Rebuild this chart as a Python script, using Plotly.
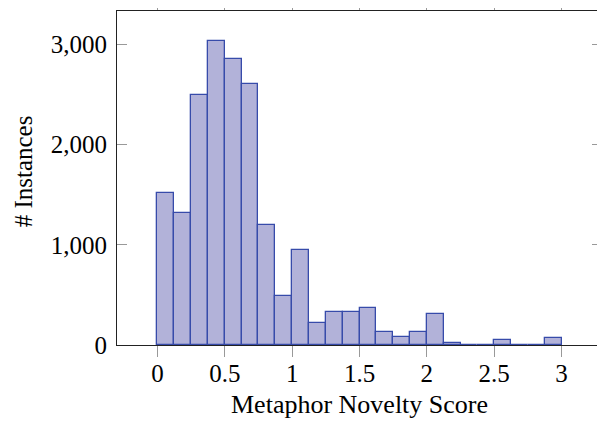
import plotly.graph_objects as go

bin_left = [0.0, 0.125, 0.25, 0.375, 0.5, 0.625, 0.75, 0.875,
            1.0, 1.125, 1.25, 1.375, 1.5, 1.625, 1.75, 1.875,
            2.0, 2.125, 2.25, 2.375, 2.5, 2.625, 2.75, 2.875]
counts = [1515, 1315, 2495, 3030, 2855, 2605, 1195, 490,
          945, 220, 330, 325, 370, 125, 80, 125,
          310, 20, 0, 0, 50, 0, 0, 70]
bin_width = 0.125

x_ticks = [0, 0.5, 1, 1.5, 2, 2.5, 3]
x_tick_labels = ["0", "0.5", "1", "1.5", "2", "2.5", "3"]
y_ticks = [0, 1000, 2000, 3000]
y_tick_labels = ["0", "1,000", "2,000", "3,000"]

centers = [b + bin_width / 2 for b in bin_left]

FONT = "Liberation Serif"
FS = 25

fig = go.Figure()
fig.add_trace(go.Bar(
    x=centers, y=counts, width=bin_width,
    marker=dict(color="rgb(178,178,217)",
                line=dict(color="rgb(55,75,170)", width=1.3)),
    showlegend=False,
))

fig.update_layout(
    width=605, height=422,
    margin=dict(l=109, r=11, t=3, b=85),
    paper_bgcolor="white", plot_bgcolor="white",
    font=dict(family=FONT, size=FS, color="black"),
    bargap=0,
    annotations=[
        dict(text="Metaphor Novelty Score", xref="paper", yref="paper",
             x=0.5, y=0, xanchor="center", yanchor="middle", yshift=-59,
             showarrow=False, font=dict(family=FONT, size=26)),
        dict(text="# Instances", xref="paper", yref="paper",
             x=0, y=0.52, xanchor="center", yanchor="middle", xshift=-94,
             textangle=-90, showarrow=False, font=dict(family=FONT, size=FS)),
    ],
)
fig.update_xaxes(
    range=[-0.3, 3.3], automargin=False,
    tickvals=x_ticks, ticktext=x_tick_labels,
    ticks="outside", ticklen=11, tickwidth=1.2, tickcolor="#999999",
    showline=True, linecolor="#222222", linewidth=1.2, mirror="ticks",
    showgrid=False, zeroline=False,
    tickfont=dict(family=FONT, size=FS),
    ticklabelstandoff=-5,
)
fig.update_yaxes(
    range=[0, 3333], automargin=False,
    tickvals=y_ticks, ticktext=y_tick_labels,
    ticks="inside", ticklen=10, tickwidth=1.2, tickcolor="#999999",
    showline=True, linecolor="#222222", linewidth=1.2, mirror="ticks",
    showgrid=False, zeroline=False,
    tickfont=dict(family=FONT, size=FS),
    ticklabelstandoff=4,
)

fig.write_html("out.html")
